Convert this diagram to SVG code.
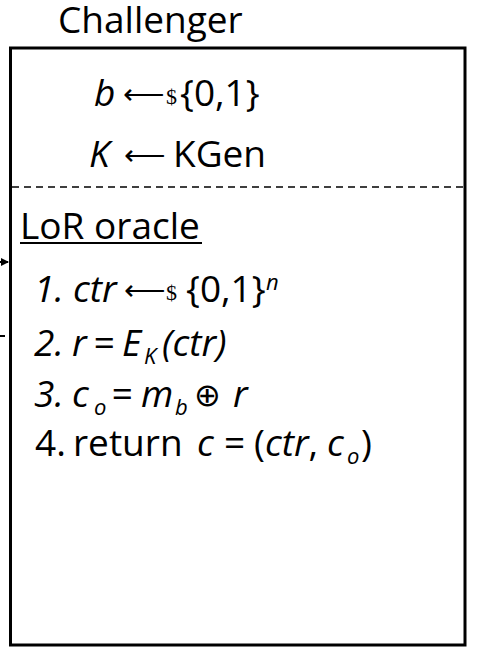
<svg xmlns="http://www.w3.org/2000/svg" width="482" height="661" viewBox="0 0 482 661">
<defs>
<style>
.t{font-family:"Open Sans","Liberation Sans",sans-serif;font-size:37px;fill:#000}
.i{font-style:italic}
.n{font-style:normal}
.a{font-size:29px;font-style:normal}
.s{font-family:"Liberation Serif",serif;font-size:22px;font-style:normal}
.sub{font-size:22px}
.ox{font-family:"DejaVu Sans",sans-serif;font-size:32px;font-style:normal}
</style>
<marker id="ah" markerWidth="8" markerHeight="8" refX="7" refY="4" orient="auto" markerUnits="userSpaceOnUse">
<path d="M0,0 L8,4 L0,8 Z" fill="#000"/>
</marker>
</defs>
<rect width="482" height="661" fill="#fff"/>
<g id="connectors">
<line x1="-10" y1="262" x2="8" y2="262" stroke="#000" stroke-width="2" marker-end="url(#ah)"/>
<line x1="-10" y1="336" x2="5" y2="336" stroke="#000" stroke-width="2"/>
</g>
<g id="challenger">
<text class="t" x="58" y="33">Challenger</text>
<rect x="10.5" y="48" width="454.5" height="597" fill="none" stroke="#000" stroke-width="3"/>
<line x1="12" y1="187" x2="463" y2="187" stroke="#000" stroke-width="1.5" stroke-dasharray="7,5"/>
<text class="t" y="106"><tspan class="i" x="94">b</tspan><tspan class="a" x="123" y="104">⟵</tspan><tspan class="s" x="166" y="104">$</tspan><tspan x="180" y="106">{0,1}</tspan></text>
<text class="t" y="167"><tspan class="i" x="89">K</tspan><tspan class="a" x="124" y="165">⟵</tspan><tspan x="173" y="167">KGen</tspan></text>
</g>
<g id="oracle">
<text class="t" x="20" y="239">LoR oracle</text>
<line x1="20" y1="243" x2="202" y2="243" stroke="#000" stroke-width="2"/>
<text class="t i" y="302"><tspan x="34">1.</tspan><tspan x="73">ctr</tspan><tspan class="a" x="124" y="300">⟵</tspan><tspan class="s" x="166" y="300">$</tspan><tspan class="n" x="186" y="302">{0,1}</tspan><tspan class="sub" x="266" y="290">n</tspan></text>
<text class="t i" y="356"><tspan x="34">2.</tspan><tspan x="72">r</tspan><tspan x="93">=</tspan><tspan x="122">E</tspan><tspan class="sub" x="144" y="364">K</tspan><tspan x="162" y="356">(ctr)</tspan></text>
<text class="t i" y="407"><tspan x="34">3.</tspan><tspan x="72">c</tspan><tspan class="sub" x="94" y="415">o</tspan><tspan x="111" y="407">=</tspan><tspan x="141">m</tspan><tspan class="sub" x="175" y="415">b</tspan><tspan class="ox" x="194" y="406">⊕</tspan><tspan x="233" y="407">r</tspan></text>
<text class="t" y="456"><tspan x="35">4.</tspan><tspan x="73">return</tspan><tspan class="i" x="197">c</tspan><tspan x="224">=</tspan><tspan x="254">(</tspan><tspan class="i">ctr</tspan><tspan>,</tspan><tspan class="i" x="327">c</tspan><tspan class="sub i" x="347" y="464">o</tspan><tspan x="361" y="456">)</tspan></text>
</g>
</svg>
